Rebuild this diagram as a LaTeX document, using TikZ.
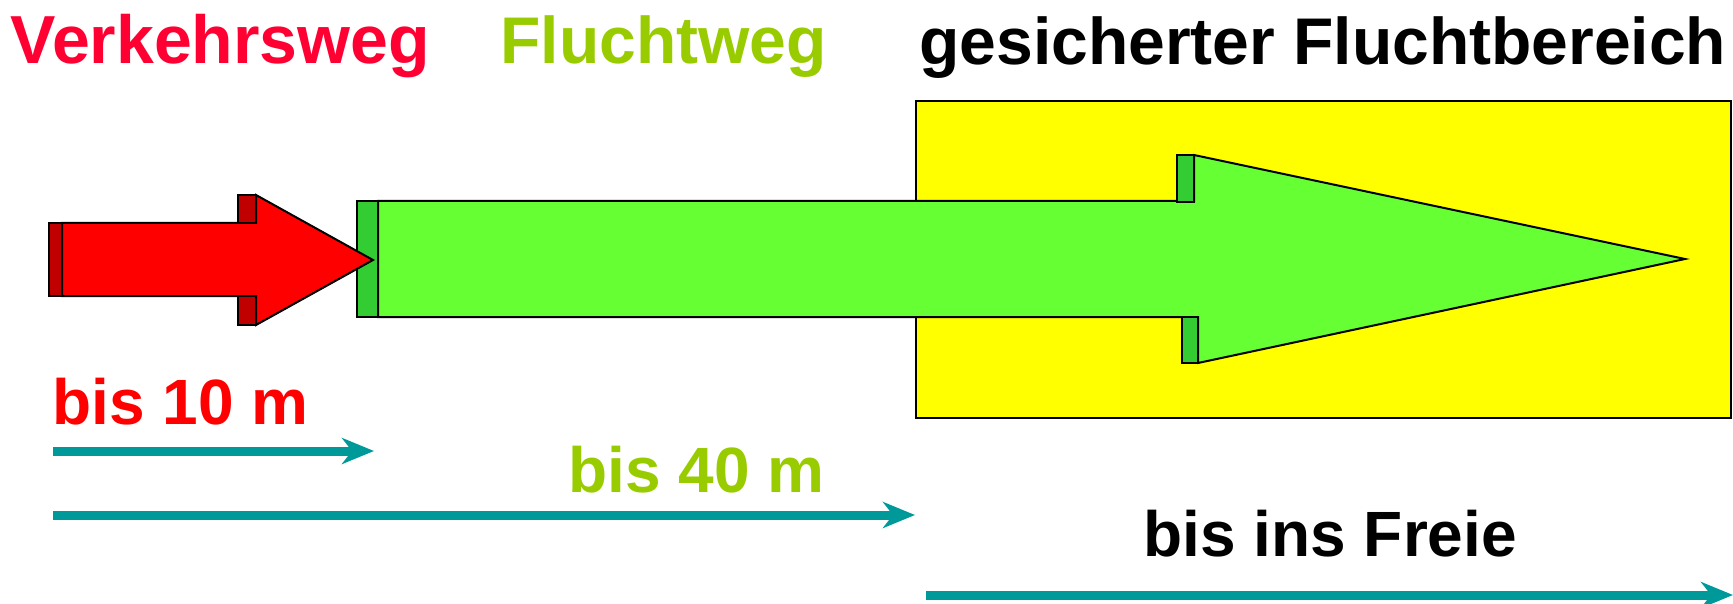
\documentclass[tikz,border=0pt]{standalone}
\usepackage{fontspec}
\setmainfont{Liberation Sans}
\usetikzlibrary{arrows.meta}
\definecolor{vred}{HTML}{FF0033}
\definecolor{ared}{HTML}{FF0000}
\definecolor{dred}{HTML}{C00000}
\definecolor{lgreen}{HTML}{66FF33}
\definecolor{dgreen}{HTML}{33CC33}
\definecolor{tgreen}{HTML}{99CC00}
\definecolor{teal2}{HTML}{009999}
\definecolor{yel}{HTML}{FFFF00}
\tikzset{
  outl/.style={draw=black, line width=1pt, line join=miter},
  title/.style={inner sep=0pt, anchor=base west, font=\fontsize{33}{40}\selectfont\bfseries},
  lbl/.style={inner sep=0pt, anchor=base west, font=\fontsize{32}{38}\selectfont\bfseries},
  dist/.style={draw=teal2, line width=4.5pt, -{Stealth[length=16pt,width=13pt,inset=5pt]}}
}
\begin{document}
\begin{tikzpicture}[x=0.5pt,y=-0.5pt]
\useasboundingbox (0,0) rectangle (1733,604);
% yellow area
\draw[outl, fill=yel] (916,101) rectangle (1731,418);
% green arrow
\draw[outl, fill=dgreen] (357,201) rectangle (378,317);
\draw[outl, fill=lgreen] (378,201) -- (1194,201) -- (1194,155) -- (1685,259) -- (1198,363) -- (1198,317) -- (378,317) -- cycle;
\draw[outl, fill=dgreen] (1177,155) rectangle (1194,202);
\draw[outl, fill=dgreen] (1182,317) rectangle (1198,363);
% red arrow
\draw[outl, fill=dred] (49,223) rectangle (62,296);
\draw[outl, fill=ared] (62,223) -- (256,223) -- (256,195) -- (373,260) -- (256,325) -- (256,296) -- (62,296) -- cycle;
\draw[outl, fill=dred] (238,195) rectangle (256,223);
\draw[outl, fill=dred] (238,296) rectangle (256,325);
% titles
\node[title, text=vred, font=\fontsize{34}{40}\selectfont\bfseries] (t1) at (10,64) {Verkehrsweg};
\node[title, text=tgreen] (t2) at (500,64) {Fluchtweg};
\node[title, text=black] (t3) at (919,65) {gesicherter Fluchtbereich};
% labels
\node[lbl, text=ared] (l1) at (52,424) {bis 10 m};
\node[lbl, text=tgreen] (l2) at (568,492) {bis 40 m};
\node[lbl, text=black] (l3) at (1143,556) {bis ins Freie};
% distance arrows
\coordinate (a1s) at (53,451); \coordinate (a1e) at (374,451);
\coordinate (a2s) at (53,515); \coordinate (a2e) at (915,515);
\coordinate (a3s) at (926,595); \coordinate (a3e) at (1733,595);
\draw[dist] (a1s) -- (a1e);
\draw[dist] (a2s) -- (a2e);
\draw[dist] (a3s) -- (a3e);
\end{tikzpicture}
\end{document}
